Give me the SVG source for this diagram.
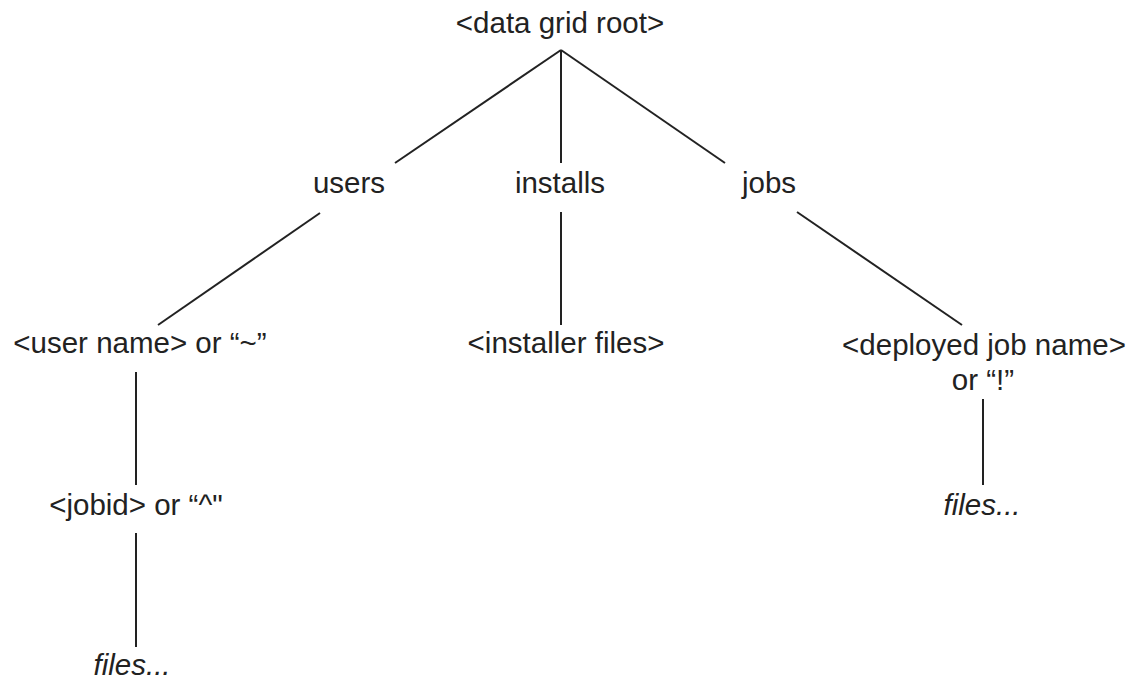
<svg xmlns="http://www.w3.org/2000/svg" width="1132" height="681" viewBox="0 0 1132 681">
<style>
text{font-family:"Liberation Sans",Arial,sans-serif;font-size:29.5px;fill:#222;text-anchor:middle}
.it{font-style:italic}
#connectors line{stroke:#222;stroke-width:2;fill:none}
</style>
<rect width="1132" height="681" fill="#fff"/>
<g id="connectors">
<line x1="561" y1="50" x2="395" y2="163"/>
<line x1="561" y1="50" x2="561" y2="163"/>
<line x1="561" y1="50" x2="725" y2="163"/>
<line x1="320" y1="213" x2="158" y2="325"/>
<line x1="561" y1="212" x2="561" y2="325"/>
<line x1="797" y1="212" x2="962" y2="325"/>
<line x1="136" y1="372" x2="136" y2="485"/>
<line x1="136" y1="533" x2="136" y2="647"/>
<line x1="983" y1="399" x2="983" y2="485"/>
</g>
<g id="root"><text x="560" y="33">&lt;data grid root&gt;</text></g>
<g id="users"><text x="349" y="193">users</text></g>
<g id="installs"><text x="560" y="193">installs</text></g>
<g id="jobs"><text x="769" y="193">jobs</text></g>
<g id="username"><text x="140" y="353">&lt;user name&gt; or “~”</text></g>
<g id="installerfiles"><text x="566" y="353">&lt;installer files&gt;</text></g>
<g id="deployed"><text x="984" y="355">&lt;deployed job name&gt;</text><text x="983" y="390">or “!”</text></g>
<g id="jobid"><text x="136" y="515">&lt;jobid&gt; or “^"</text></g>
<g id="files1"><text class="it" x="132" y="675">files...</text></g>
<g id="files2"><text class="it" x="982" y="515">files...</text></g>
</svg>
